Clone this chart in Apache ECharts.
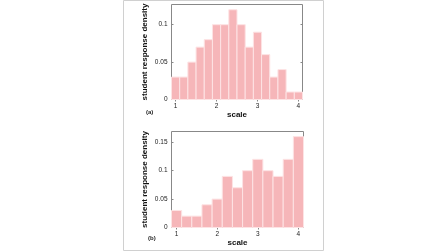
<!DOCTYPE html>
<html>
<head>
<meta charset="utf-8">
<script src="https://cdn.jsdelivr.net/npm/echarts@6/dist/echarts.min.js"></script>
<style>
  html, body { margin: 0; padding: 0; background: #fff; }
  #chart { width: 448px; height: 252px; }
</style>
</head>
<body>
<div id="chart"></div>
<script>
  // panel (a): bins of width 0.2 centred on 1.0 ... 4.0
  let binsA = [1.0, 1.2, 1.4, 1.6, 1.8, 2.0, 2.2, 2.4, 2.6, 2.8, 3.0, 3.2, 3.4, 3.6, 3.8, 4.0]
  let densityA = [0.03, 0.03, 0.05, 0.07, 0.08, 0.10, 0.10, 0.12, 0.10, 0.07, 0.09, 0.06, 0.03, 0.04, 0.01, 0.01]
  let widthA = 0.2
  // panel (b): bins of width 0.25 centred on 1.0 ... 4.0
  let binsB = [1.0, 1.25, 1.5, 1.75, 2.0, 2.25, 2.5, 2.75, 3.0, 3.25, 3.5, 3.75, 4.0]
  let densityB = [0.03, 0.02, 0.02, 0.04, 0.05, 0.09, 0.07, 0.10, 0.12, 0.10, 0.09, 0.12, 0.16]
  let widthB = 0.25

  let xTicks = [1, 2, 3, 4]
  let yTicksA = [0, 0.05, 0.1]
  let yTicksB = [0, 0.05, 0.1, 0.15]

  let font = 'Liberation Sans, Arial, Helvetica, sans-serif'
  let myChart = echarts.init(document.getElementById('chart'))

  function histData(bins, vals, w) {
    return bins.map(function (c, i) { return [c - w / 2, c + w / 2, vals[i]] })
  }

  function renderBar(params, api) {
    let p0 = api.coord([api.value(0), api.value(2)])
    let p1 = api.coord([api.value(1), 0])
    return {
      type: 'rect',
      shape: { x: p0[0], y: p0[1], width: p1[0] - p0[0], height: p1[1] - p0[1] },
      style: { fill: '#f6b6b9', stroke: '#fde3e4', lineWidth: 1 }
    }
  }

  function xAx(grid, min, max, pos, showLabel, name) {
    return {
      type: 'value', gridIndex: grid, min: min, max: max, position: pos,
      name: name, nameLocation: 'middle', nameGap: 11,
      nameTextStyle: { fontFamily: font, fontSize: 8, fontWeight: 'bold', color: '#111' },
      axisLine: { show: false },
      axisTick: { show: true, inside: true, length: 2, customValues: xTicks, lineStyle: { color: '#888' } },
      axisLabel: { show: showLabel, customValues: xTicks, fontFamily: font, fontSize: 6.5, color: '#222', margin: 3 },
      splitLine: { show: false }
    }
  }

  function yAx(grid, max, ticks, pos, showLabel, name) {
    return {
      type: 'value', gridIndex: grid, min: 0, max: max, position: pos,
      name: name, nameLocation: 'middle', nameGap: 23,
      nameTextStyle: { fontFamily: font, fontSize: 8, fontWeight: 'bold', color: '#111' },
      axisLine: { show: false },
      axisTick: { show: true, inside: true, length: 2, customValues: ticks, lineStyle: { color: '#888' } },
      axisLabel: { show: showLabel, customValues: ticks, fontFamily: font, fontSize: 6.5, color: '#222', margin: 4 },
      splitLine: { show: false }
    }
  }

  let option = {
    backgroundColor: '#fff',
    animation: false,
    graphic: [{
      type: 'rect', shape: { x: 123.5, y: 0.5, width: 200, height: 250 },
      style: { fill: 'none', stroke: '#d0d0d0', lineWidth: 1 }, z: -1
    }, {
      type: 'text', left: 146, top: 109,
      style: { text: '(a)', fontFamily: font, fontSize: 6, fontWeight: 'bold', fill: '#222' }
    }, {
      type: 'text', left: 148, top: 235,
      style: { text: '(b)', fontFamily: font, fontSize: 6, fontWeight: 'bold', fill: '#222' }
    }],
    grid: [
      { left: 171.5, width: 131, top: 4.5, height: 95, show: true, borderColor: '#888', borderWidth: 1 },
      { left: 171.5, width: 132, top: 131.5, height: 96, show: true, borderColor: '#888', borderWidth: 1 }
    ],
    xAxis: [
      xAx(0, 0.9, 4.1, 'bottom', true, 'scale'),
      xAx(0, 0.9, 4.1, 'top', false, ''),
      xAx(1, 0.875, 4.125, 'bottom', true, 'scale'),
      xAx(1, 0.875, 4.125, 'top', false, '')
    ],
    yAxis: [
      yAx(0, 0.127, yTicksA, 'left', true, 'student response density'),
      yAx(0, 0.127, yTicksA, 'right', false, ''),
      yAx(1, 0.169, yTicksB, 'left', true, 'student response density'),
      yAx(1, 0.169, yTicksB, 'right', false, '')
    ],
    series: [{
      type: 'custom', xAxisIndex: 0, yAxisIndex: 0,
      renderItem: renderBar, encode: { x: [0, 1], y: 2 },
      data: histData(binsA, densityA, widthA)
    }, {
      type: 'custom', xAxisIndex: 2, yAxisIndex: 2,
      renderItem: renderBar, encode: { x: [0, 1], y: 2 },
      data: histData(binsB, densityB, widthB)
    }]
  }
  myChart.setOption(option)
</script>
</body>
</html>
